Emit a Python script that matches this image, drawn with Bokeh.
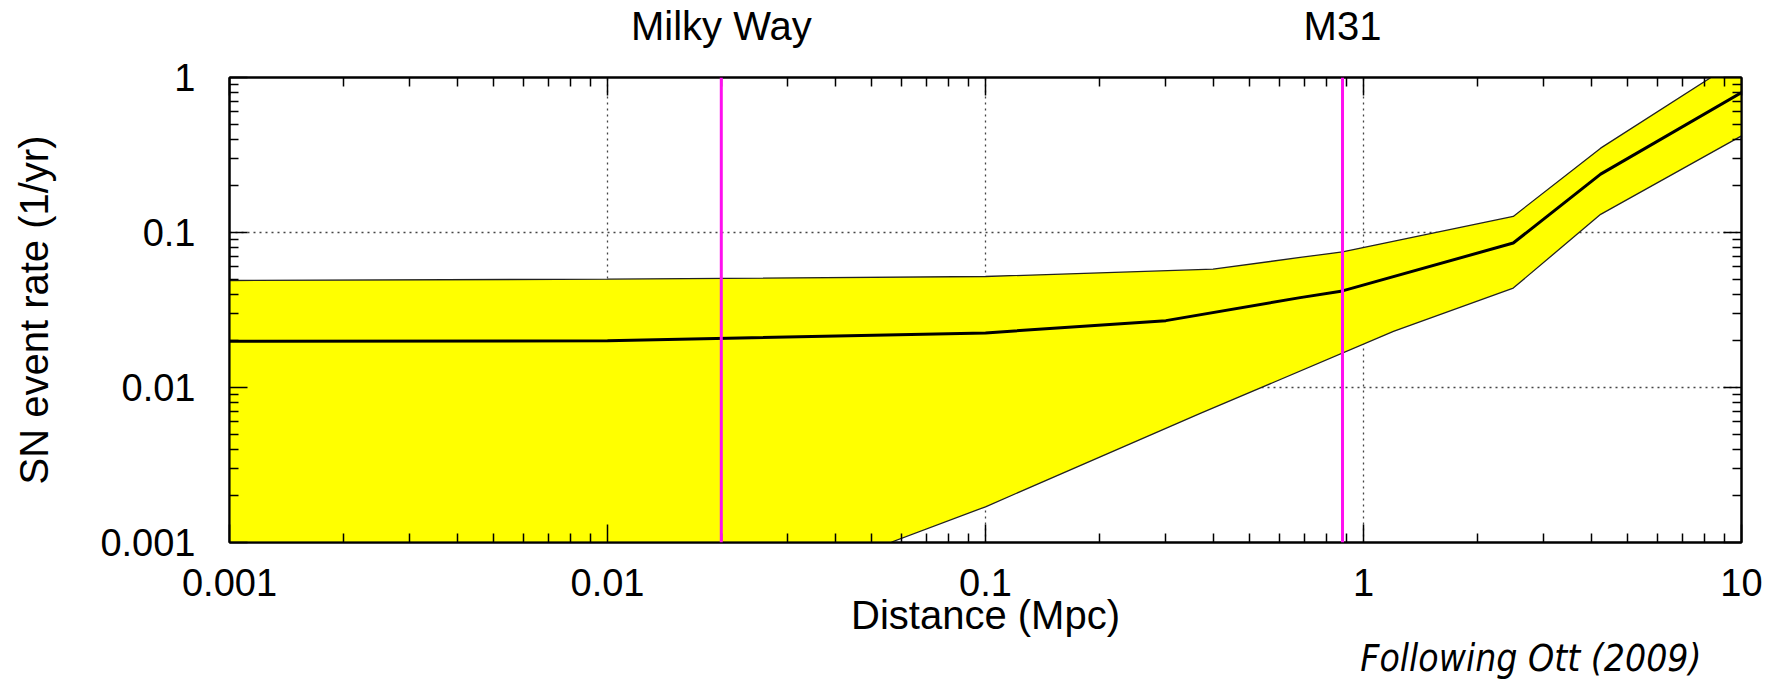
from bokeh.plotting import figure
from bokeh.models import LogAxis, FixedTicker, Span, Range1d, Title, CustomJSTickFormatter
from bokeh.embed import file_html
from bokeh.resources import INLINE

# ---- data ----
upper_dist = [0.001, 0.01, 0.1, 0.4, 0.68, 0.88, 2.49, 4.24, 8.3, 10]
upper_rate = [0.049, 0.050, 0.052, 0.058, 0.069, 0.075, 0.127, 0.35, 1.0, 1.35]

lower_dist = [0.001, 0.056, 0.1, 0.37, 1.2, 2.49, 4.24, 10]
lower_rate = [0.001, 0.001, 0.0017, 0.0068, 0.023, 0.0438, 0.131, 0.42]

central_dist = [0.001, 0.01, 0.1, 0.3, 0.68, 0.88, 2.49, 4.24, 10]
central_rate = [0.0199, 0.020, 0.0225, 0.027, 0.038, 0.042, 0.0855, 0.238, 0.80]

marker_dist = [0.02, 0.88]
marker_names = ["Milky Way", "M31"]

x_tick_values = [0.001, 0.01, 0.1, 1, 10]
x_tick_labels = ["0.001", "0.01", "0.1", "1", "10"]
y_tick_values = [0.001, 0.01, 0.1, 1]
y_tick_labels = ["0.001", "0.01", "0.1", "1"]

FONT = "Liberation Sans"
FS_TICK = "38px"
FS_TITLE = "40px"

x_minor = [m * 10.0 ** e for e in range(-3, 1) for m in range(2, 10)]
y_minor = [m * 10.0 ** e for e in range(-3, 0) for m in range(2, 10)]

p = figure(width=1776, height=680, x_axis_type="log", y_axis_type="log",
           x_range=Range1d(0.001, 10), y_range=Range1d(0.001, 1),
           output_backend="svg", toolbar_location=None,
           min_border_left=229, min_border_right=35,
           min_border_top=76, min_border_bottom=138)
p.background_fill_color = "white"
p.border_fill_color = "white"
p.outline_line_color = "black"
p.outline_line_width = 2


def label_formatter(labels):
    return CustomJSTickFormatter(args=dict(labels=labels), code="return labels[index];")


def style_axis(ax, labels):
    ax.axis_line_color = "black"
    ax.axis_line_width = 2
    ax.major_tick_in = 18
    ax.major_tick_out = 0
    ax.minor_tick_in = 9
    ax.minor_tick_out = 0
    ax.major_tick_line_color = "black"
    ax.minor_tick_line_color = "black"
    ax.major_tick_line_width = 1.5
    ax.minor_tick_line_width = 1.5
    ax.major_label_text_font = FONT
    if labels:
        ax.major_label_text_font_size = FS_TICK
        ax.major_label_text_color = "black"
    else:
        ax.major_label_text_font_size = "2px"
        ax.major_label_text_color = None
        ax.major_label_standoff = 0
    ax.axis_label_text_font = FONT
    ax.axis_label_text_font_size = FS_TITLE
    ax.axis_label_text_font_style = "normal"
    ax.axis_label_text_color = "black"


bx = p.xaxis[0]
bx.ticker = FixedTicker(ticks=x_tick_values, minor_ticks=x_minor)
style_axis(bx, True)
bx.formatter = label_formatter(x_tick_labels)
bx.major_label_standoff = 26
bx.axis_label = "Distance (Mpc)"
bx.axis_label_standoff = -6

ly = p.yaxis[0]
ly.ticker = FixedTicker(ticks=y_tick_values, minor_ticks=y_minor)
style_axis(ly, True)
ly.formatter = label_formatter(y_tick_labels)
ly.major_label_standoff = 34
ly.axis_label = "SN event rate (1/yr)"
ly.axis_label_standoff = 41

# top axis: ticks only
top = LogAxis(ticker=FixedTicker(ticks=x_tick_values, minor_ticks=x_minor))
style_axis(top, False)
p.add_layout(top, "above")

# top axis: galaxy names
names_axis = LogAxis(ticker=FixedTicker(ticks=marker_dist, minor_ticks=[]),
                     formatter=label_formatter(marker_names))
names_axis.axis_line_color = None
names_axis.major_tick_line_color = None
names_axis.minor_tick_line_color = None
names_axis.major_tick_in = 0
names_axis.major_tick_out = 0
names_axis.major_label_standoff = 30
names_axis.major_label_text_font = FONT
names_axis.major_label_text_font_size = FS_TITLE
names_axis.major_label_text_color = "black"
p.add_layout(names_axis, "above")

right = LogAxis(ticker=FixedTicker(ticks=y_tick_values, minor_ticks=y_minor))
style_axis(right, False)
p.add_layout(right, "right")

p.xgrid.grid_line_color = "#444444"
p.xgrid.grid_line_dash = "2 4"
p.xgrid.grid_line_width = 1.3
p.ygrid.grid_line_color = "#444444"
p.ygrid.grid_line_dash = "2 4"
p.ygrid.grid_line_width = 1.3

# band
band_x = upper_dist + lower_dist[::-1]
band_y = upper_rate + lower_rate[::-1]
p.patch(band_x, band_y, fill_color="#ffff00", line_color="#222222", line_width=1.3)

# central estimate
p.line(central_dist, central_rate, line_color="black", line_width=3)

# galaxy markers
for d in marker_dist:
    p.add_layout(Span(location=d, dimension="height", line_color="#ff10f0", line_width=3))

credit = Title(text="Following Ott (2009)", align="right", offset=40, standoff=-10,
               text_font="DejaVu Sans Condensed", text_font_size="37px",
               text_font_style="italic", text_color="black")
p.add_layout(credit, "below")

open("out.html", "w").write(file_html(p, INLINE))
